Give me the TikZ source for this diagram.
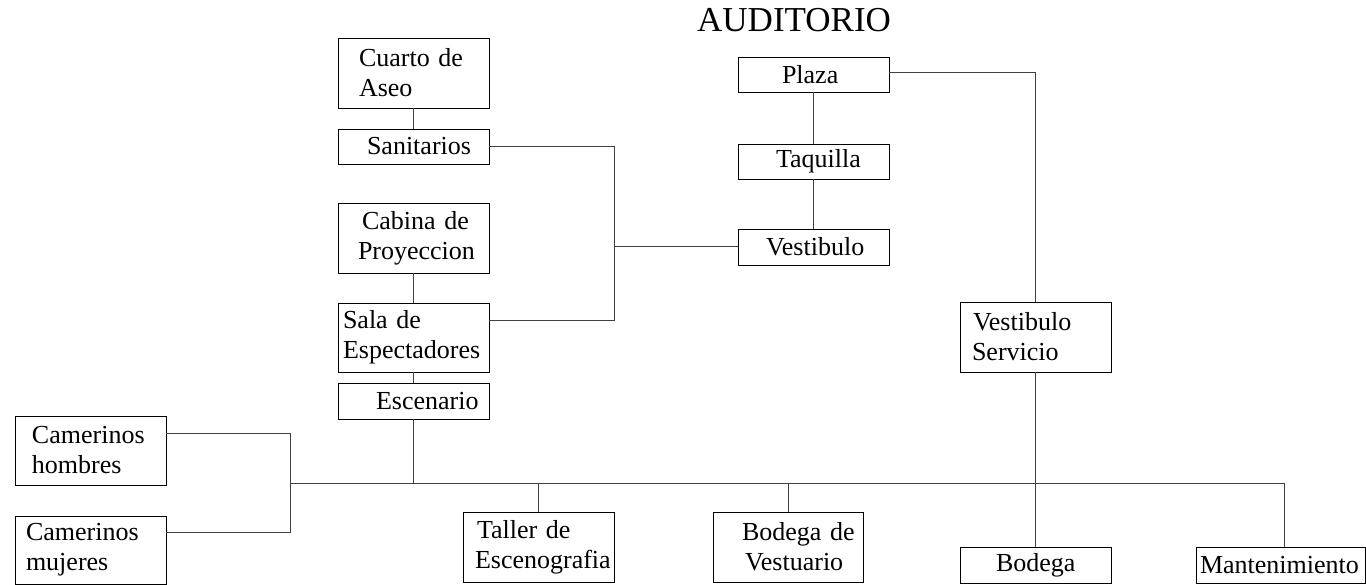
\documentclass[tikz,border=0pt]{standalone}
\usepackage{fontspec}
\setmainfont{Liberation Serif}
\usetikzlibrary{calc}
\newcommand{\ind}[1]{\hspace*{#1pt}}
\begin{document}
\begin{tikzpicture}[x=1pt,y=-1pt,
  box/.style={draw=black, line width=0.9pt, inner xsep=0pt, inner ysep=0pt,
    minimum height=#1, text width=151pt, align=left,
    font=\fontsize{26}{30}\selectfont},
  box/.default=35pt,
  conn/.style={draw=black!75, line width=1pt},
  titletext/.style={font=\fontsize{35}{40}\selectfont, inner sep=0pt}
]
\useasboundingbox (0,0) rectangle (1366,585);

\node[titletext, anchor=base west] (title) at (697,32) {AUDITORIO};

\node[box=70pt] (cuarto) at (413.5,73) {\ind{21}Cuarto de\\\ind{21}Aseo};
\node[box] (sanit) at (413.5,146.5) {\ind{29}Sanitarios};
\node[box=70pt] (cabina) at (413.5,238) {\ind{24}Cabina de\\\ind{20}Proyeccion};
\node[box=69pt] (sala) at (413.5,337.5) {\ind{5}Sala de\\\ind{5}Espectadores};
\node[box=36pt] (escen) at (413.5,401) {\ind{38}Escenario};

\node[box] (plaza) at (813.5,74.5) {\ind{44}Plaza};
\node[box] (taq) at (813.5,161.5) {\ind{38}Taquilla};
\node[box=36pt] (vest) at (813.5,247) {\ind{28}Vestibulo};

\node[box=70pt] (vserv) at (1035.5,337) {\ind{13}Vestibulo\\\ind{12}Servicio};

\node[box=69pt] (camh) at (90.5,450.5) {\ind{17}Camerinos\\\ind{17}hombres};
\node[box=68pt] (camm) at (90.5,550) {\ind{11}Camerinos\\\ind{11}mujeres};

\node[box=70pt] (taller) at (538.5,547) {\ind{14}Taller de\\\ind{12}Escenografia};
\node[box=70pt, text width=150pt] (bodv) at (788,547) {\ind{29}Bodega de\\\ind{32}Vestuario};
\node[box=36pt] (bodega) at (1035.5,565) {\ind{36}Bodega};
\node[box=36pt, text width=169pt] (mant) at (1280.5,565) {\ind{4}Mantenimiento};

\coordinate (jx) at (614,247);
\coordinate (busL) at (290,483);
\coordinate (busR) at (1284,483);

\draw[conn] (cuarto.south) -- (sanit.north);
\draw[conn] (cabina.south) -- (sala.north);
\draw[conn] (sala.south) -- (escen.north);
\draw[conn] (sanit.east) -| (jx);
\draw[conn] ($(sala.north east)!0.26!(sala.south east)$) -| (jx);
\draw[conn] (vest.west) -- (jx);

\draw[conn] (plaza.south) -- (taq.north);
\draw[conn] (taq.south) -- (vest.north);
\draw[conn] ([yshift=1.5pt]plaza.east) -| (vserv.north);
\draw[conn] (vserv.south) -- (bodega.north);

\draw[conn] (escen.south) -- (escen.south |- busL);
\draw[conn] (busL) -- (busR) -- (busR |- mant.north);
\draw[conn] ($(camh.north east)!0.25!(camh.south east)$) -| (busL);
\draw[conn] ($(camm.north east)!0.24!(camm.south east)$) -| (busL);
\draw[conn] (taller.north |- busL) -- (taller.north);
\draw[conn] (bodv.north |- busL) -- (bodv.north);
\end{tikzpicture}
\end{document}
